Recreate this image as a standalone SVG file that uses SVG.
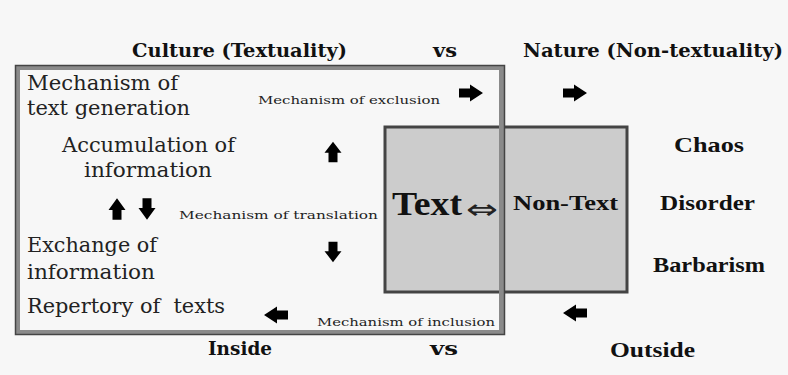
<svg xmlns="http://www.w3.org/2000/svg" width="788" height="375" viewBox="0 0 788 375">
<defs>
<style>
.bg{fill:#f7f7f7}
.reg{font-family:"DejaVu Serif","Liberation Serif",serif;font-size:20px;fill:#222}
.sm{font-family:"DejaVu Serif","Liberation Serif",serif;font-size:11px;fill:#222}
.hd{font-family:"DejaVu Serif","Liberation Serif",serif;font-size:18px;font-weight:bold;fill:#111}
.rt{font-family:"Liberation Serif","DejaVu Serif",serif;font-size:21px;font-weight:bold;fill:#111}
.big{font-family:"Liberation Serif","DejaVu Serif",serif;font-size:33px;font-weight:bold;fill:#111}
.sym{font-family:"DejaVu Sans",sans-serif;font-size:28px;fill:#222}
.arr{fill:#000}
</style>
<path id="ar" d="M-12,-4.5 L-1,-4.5 L-1,-8.5 L12,0 L-1,8.5 L-1,4.5 L-12,4.5 Z"/>
</defs>
<rect class="bg" x="0" y="0" width="788" height="375"/>

<g id="header">
<text class="hd" x="132" y="57" textLength="215" lengthAdjust="spacingAndGlyphs">Culture (Textuality)</text>
<text class="hd" x="433" y="57" textLength="24" lengthAdjust="spacingAndGlyphs">vs</text>
<text class="hd" x="523" y="57" textLength="260" lengthAdjust="spacingAndGlyphs">Nature (Non-textuality)</text>
</g>

<g id="text-box">
<rect x="385" y="127" width="242" height="165" fill="#cccccc" stroke="#444" stroke-width="3"/>
<text class="big" x="392" y="215" textLength="70" lengthAdjust="spacingAndGlyphs">Text</text>
<text class="sym" x="466" y="219" textLength="32" lengthAdjust="spacingAndGlyphs">⇔</text>
<text class="rt" x="513" y="210" textLength="105" lengthAdjust="spacingAndGlyphs">Non-Text</text>
</g>

<g id="culture-box">
<rect x="17.5" y="67.5" width="484" height="265" fill="none" stroke="#8a8a8a" stroke-width="5"/>
<rect x="15.5" y="65.5" width="489" height="269" fill="none" stroke="#444" stroke-width="1.5"/>
</g>

<g id="mechanism-generation">
<text class="reg" x="27" y="90" textLength="151" lengthAdjust="spacingAndGlyphs">Mechanism of</text>
<text class="reg" x="27" y="115" textLength="163" lengthAdjust="spacingAndGlyphs">text generation</text>
</g>
<g id="accumulation">
<text class="reg" x="62" y="152" textLength="173" lengthAdjust="spacingAndGlyphs">Accumulation of</text>
<text class="reg" x="84" y="177" textLength="128" lengthAdjust="spacingAndGlyphs">information</text>
</g>
<g id="exchange">
<text class="reg" x="27" y="252" textLength="130" lengthAdjust="spacingAndGlyphs">Exchange of</text>
<text class="reg" x="27" y="279" textLength="128" lengthAdjust="spacingAndGlyphs">information</text>
</g>
<g id="repertory">
<text class="reg" x="27" y="313" textLength="198" lengthAdjust="spacingAndGlyphs" style="white-space:pre">Repertory of  texts</text>
</g>

<g id="labels">
<text class="sm" x="258" y="104" textLength="182" lengthAdjust="spacingAndGlyphs">Mechanism of exclusion</text>
<text class="sm" x="179" y="219" textLength="199" lengthAdjust="spacingAndGlyphs">Mechanism of translation</text>
<text class="sm" x="317" y="326" textLength="178" lengthAdjust="spacingAndGlyphs">Mechanism of inclusion</text>
</g>

<g id="nature-side">
<text class="rt" x="674" y="152" textLength="70" lengthAdjust="spacingAndGlyphs">Chaos</text>
<text class="rt" x="660" y="210" textLength="95" lengthAdjust="spacingAndGlyphs">Disorder</text>
<text class="rt" x="653" y="272" textLength="112" lengthAdjust="spacingAndGlyphs">Barbarism</text>
</g>

<g id="footer">
<text class="hd" x="208" y="355" textLength="64" lengthAdjust="spacingAndGlyphs">Inside</text>
<text class="hd" x="430" y="355" textLength="28" lengthAdjust="spacingAndGlyphs">vs</text>
<text class="rt" x="610" y="357" textLength="85" lengthAdjust="spacingAndGlyphs">Outside</text>
</g>

<g id="connectors" class="arr">
<use href="#ar" transform="translate(471,93)"/>
<use href="#ar" transform="translate(575,93)"/>
<use href="#ar" transform="translate(333,152) rotate(-90) scale(0.85,1)"/>
<use href="#ar" transform="translate(117,209) rotate(-90) scale(0.9,1)"/>
<use href="#ar" transform="translate(147,209) rotate(90) scale(0.9,1)"/>
<use href="#ar" transform="translate(333,252) rotate(90) scale(0.85,1)"/>
<use href="#ar" transform="translate(276,315) rotate(180)"/>
<use href="#ar" transform="translate(575,313) rotate(180)"/>
</g>
</svg>
